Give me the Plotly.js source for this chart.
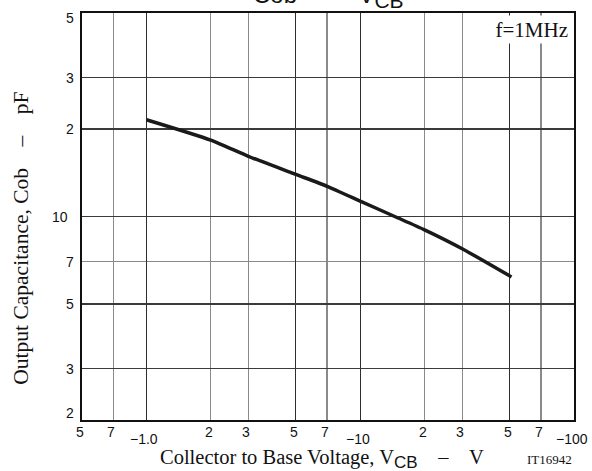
<!DOCTYPE html>
<html>
<head>
<meta charset="utf-8">
<script src="https://cdn.plot.ly/plotly-3.0.1.min.js"></script>
<style>
  html, body { margin: 0; padding: 0; background: #fff; }
  #chart { width: 592px; height: 471px; }
</style>
</head>
<body>
<div id="chart"></div>
<script>
// ---- data ----
const vcb = [1, 2, 3, 5, 7, 10, 14.5, 20, 30, 51];          // |V_CB| in volts
const cob = [21.5, 18.3, 16.1, 13.95, 12.7, 11.3, 10, 9.0, 7.75, 6.2]; // pF

const xTickVals = [0.5, 0.7, 1, 2, 3, 5, 7, 10, 20, 30, 50, 70, 100];
const xTickText = ['5', '7', '\u22121.0', '2', '3', '5', '7', '\u221210', '2', '3', '5', '7', '\u2212100'];
const yTickVals = [2, 3, 5, 7, 10, 20, 30, 50];
const yTickText = ['2', '3', '5', '7', '10', '2', '3', '5'];

const xGridMajor = [1, 5, 10, 50];
const xGridMinor = [0.7, 2, 3, 7, 20, 30, 70];
const yGridMajor = [3, 5, 10, 20, 30];
const yGridMinor = [7];

const SANS = '"Liberation Sans", Arial, Helvetica, sans-serif';
const SERIF = '"Liberation Serif", "Times New Roman", Times, serif';

const xMin = 0.5, xMax = 100, yMin = 2, yMax = 50;

const annotations = [];

// x tick labels
xTickVals.forEach((v, i) => {
  const t = xTickText[i];
  const isDecade = t.charAt(0) === '\u2212';
  annotations.push({
    xref: 'x', yref: 'paper', x: Math.log10(v), y: 0,
    text: t, showarrow: false, xanchor: 'center', yanchor: 'middle',
    xshift: -2, yshift: isDecade ? -19 : -12,
    font: { family: SANS, size: 14, color: '#111' }
  });
});

// y tick labels
yTickVals.forEach((v, i) => {
  const t = yTickText[i];
  let ys = 0;
  if (v === yMax) ys = -5;
  if (v === yMin) ys = 7;
  annotations.push({
    xref: 'paper', yref: 'y', x: 0, y: Math.log10(v),
    text: t, showarrow: false, xanchor: 'right', yanchor: 'middle',
    xshift: t.length > 1 ? -12 : -6, yshift: ys,
    font: { family: SANS, size: 14, color: '#111' }
  });
});

// chart title (clipped at the top, as in the reference)
annotations.push({
  xref: 'paper', yref: 'paper', x: 0.5, y: 0.9975,
  text: 'Cob\u2003\u2013\u2003V<sub><span style="font-size:21px">CB</span></sub>', showarrow: false,
  xanchor: 'center', yanchor: 'bottom',
  font: { family: SANS, size: 24, color: '#111' }
});

// f=1MHz label
annotations.push({
  xref: 'paper', yref: 'paper', x: 1, y: 1,
  text: 'f=1MHz', showarrow: false, xanchor: 'right', yanchor: 'top',
  xshift: -3, yshift: -1.5, bgcolor: '#ffffff', borderpad: 1.5,
  font: { family: SERIF, size: 21, color: '#111' }
});

// x axis title
annotations.push({
  xref: 'paper', yref: 'paper', x: 0.155, y: -0.0955,
  text: 'Collector to Base Voltage, V<sub><span style="font-family:Liberation Sans;font-size:17px">CB</span></sub>\u2003\u2013\u2003V',
  showarrow: false, xanchor: 'left', yanchor: 'middle',
  font: { family: SERIF, size: 20.5, color: '#111' }
});

// y axis title
annotations.push({
  xref: 'paper', yref: 'paper', x: -0.124, y: 0.448,
  text: 'Output Capacitance, Cob\u2003\u2013\u2003pF', textangle: -90,
  showarrow: false, xanchor: 'center', yanchor: 'middle',
  font: { family: SERIF, size: 21.5, color: '#111' }
});

// figure code
annotations.push({
  xref: 'paper', yref: 'paper', x: 0.950, y: -0.097,
  text: 'IT16942', showarrow: false, xanchor: 'center', yanchor: 'middle',
  font: { family: SERIF, size: 13, color: '#111' }
});

const trace = {
  type: 'scatter', mode: 'lines', x: vcb, y: cob,
  line: { color: '#1a1a1a', width: 3.5, shape: 'spline', smoothing: 0.6 },
  hoverinfo: 'skip'
};

const layout = {
  width: 592, height: 471,
  margin: { l: 82, r: 18, t: 13, b: 51, pad: 0 },
  paper_bgcolor: '#ffffff', plot_bgcolor: '#ffffff',
  showlegend: false,
  xaxis: {
    type: 'log', range: [Math.log10(xMin), Math.log10(xMax)],
    tickmode: 'array', tickvals: xGridMajor, showticklabels: false, ticks: '',
    showgrid: true, gridcolor: '#2e2e2e', gridwidth: 1.3,
    minor: { tickmode: 'array', tickvals: xGridMinor, showgrid: true, gridcolor: '#8a8a8a', gridwidth: 1.3, ticks: '' },
    showline: true, mirror: true, linecolor: '#111', linewidth: 1.6, zeroline: false
  },
  yaxis: {
    type: 'log', range: [Math.log10(yMin), Math.log10(yMax)],
    tickmode: 'array', tickvals: yGridMajor, showticklabels: false, ticks: '',
    showgrid: true, gridcolor: '#3a3a3a', gridwidth: 1.3,
    minor: { tickmode: 'array', tickvals: yGridMinor, showgrid: true, gridcolor: '#8a8a8a', gridwidth: 1.3, ticks: '' },
    showline: true, mirror: true, linecolor: '#111', linewidth: 1.6, zeroline: false
  },
  annotations: annotations
};

Plotly.newPlot('chart', [trace], layout, { staticPlot: true, displayModeBar: false });
</script>
</body>
</html>
